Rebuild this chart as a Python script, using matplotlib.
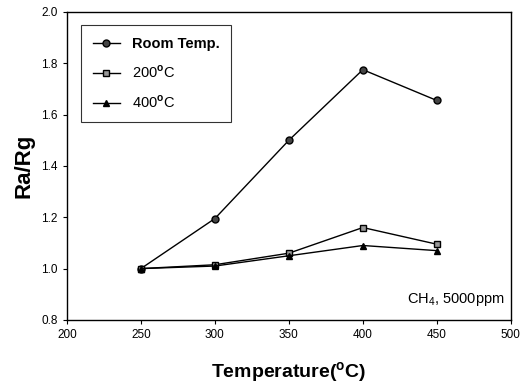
import matplotlib
matplotlib.use("Agg")
import matplotlib.pyplot as plt

plt.rcParams['font.family'] = ['Liberation Sans', 'DejaVu Sans']
plt.rcParams['mathtext.fontset'] = 'custom'
plt.rcParams['mathtext.rm'] = 'Liberation Sans'
plt.rcParams['mathtext.bf'] = 'Liberation Sans:bold'

# data
temps = [250, 300, 350, 400, 450]
room_temp = [1.00, 1.195, 1.50, 1.775, 1.655]
t200 = [1.00, 1.015, 1.06, 1.16, 1.095]
t400 = [1.00, 1.01, 1.05, 1.09, 1.07]

fig = plt.figure(figsize=(5.31, 3.85), dpi=100)
ax = fig.add_axes([0.126, 0.169, 0.836, 0.80])

ax.plot(temps, room_temp, color="black", lw=1, marker="o", ms=5,
        mfc="#444444", mec="black", label="Room Temp.")
ax.plot(temps, t200, color="black", lw=1, marker="s", ms=5,
        mfc="#999999", mec="black", label=r"200$^{\mathbf{o}}$C")
ax.plot(temps, t400, color="black", lw=1, marker="^", ms=5,
        mfc="black", mec="black", label=r"400$^{\mathbf{o}}$C")

ax.set_xlim(200, 500)
ax.set_ylim(0.8, 2.0)
ax.set_xticks([200, 250, 300, 350, 400, 450, 500])
ax.set_yticks([0.8, 1.0, 1.2, 1.4, 1.6, 1.8, 2.0])
ax.set_yticklabels([f"{v:.1f}" for v in ax.get_yticks()])
ax.tick_params(direction="out", length=3, width=0.8, labelsize=8.5)
for s in ax.spines.values():
    s.set_linewidth(1.0)

ax.set_xlabel(r"Temperature($^{\mathbf{o}}$C)", fontsize=14, weight="bold", labelpad=14)
ax.set_ylabel("Ra/Rg", fontsize=16, weight="bold", labelpad=5)

ax.text(0.985, 0.04, r"CH$_4$, 5000ppm", transform=ax.transAxes,
        ha="right", va="bottom", fontsize=10.5)

leg = ax.legend(loc="upper left", bbox_to_anchor=(0.015, 0.98), fontsize=10.5,
                frameon=True, fancybox=False, edgecolor="black",
                handlelength=1.9, borderpad=0.8, labelspacing=0.9)
leg.get_frame().set_linewidth(0.8)
leg.get_texts()[0].set_fontweight("bold")

fig.savefig("out.png", dpi=100)
